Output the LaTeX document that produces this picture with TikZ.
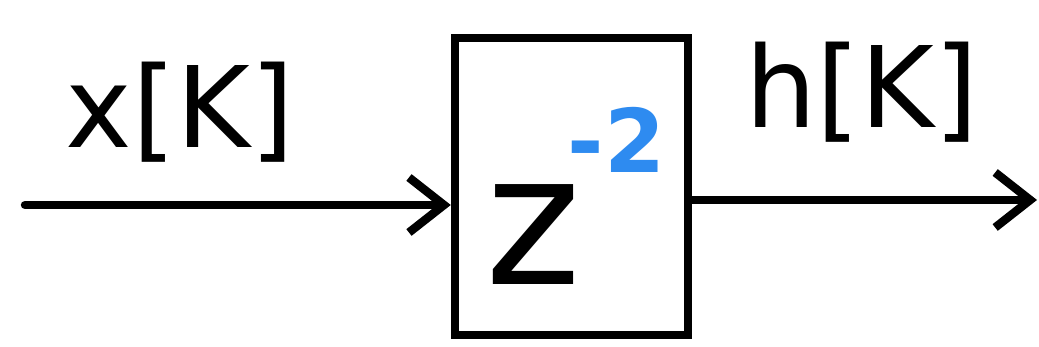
\documentclass[tikz,border=0pt]{standalone}
\usepackage{fontspec}
\setsansfont{DejaVu Sans}
\usepackage{tikz}
\usetikzlibrary{positioning, arrows.meta, calc}
\definecolor{zblue}{HTML}{2E8BF0}
\newcommand{\zpow}[1]{\raisebox{1.12cm}{\bfseries\fontsize{25}{25}\selectfont\color{zblue}#1}}
\tikzset{
  blockbox/.style = {draw, line width=2.4pt, minimum width=2.33cm, minimum height=2.97cm, inner sep=0pt},
  sig/.style      = {line width=2.4pt, line cap=round, -{Straight Barb[length=3.5mm, width=5.5mm]}},
  siglabel/.style = {font=\sffamily\fontsize{32}{34}\selectfont, inner sep=0pt},
  zsym/.style     = {font=\sffamily\fontsize{52}{52}\selectfont, inner sep=0pt}
}
\begin{document}
\begin{tikzpicture}[x=1cm, y=1cm]
    \useasboundingbox (0,0) rectangle (10.39,3.47);

    % ── Delay block ───────────────────────────────────────────
    \node[blockbox] (delay) at (5.715, 1.605) {};
    \node[zsym, anchor=base west] (ztext) at (4.85, 0.62) {z\kern-4pt\zpow{-2}};

    % ── Input / output signals ───────────────────────────────
    \coordinate (xin)  at (0.25, 1.42);
    \coordinate (hout) at (10.37, 1.47);
    \draw[sig] (xin) -- (xin -| delay.west);
    \draw[sig] (delay.east |- hout) -- (hout);

    % ── Labels ────────────────────────────────────────────────
    \node[siglabel] (xlab) at (1.80, 2.35) {x[K]};
    \node[siglabel] (hlab) at (8.62, 2.55) {h[K]};

\end{tikzpicture}
\end{document}
